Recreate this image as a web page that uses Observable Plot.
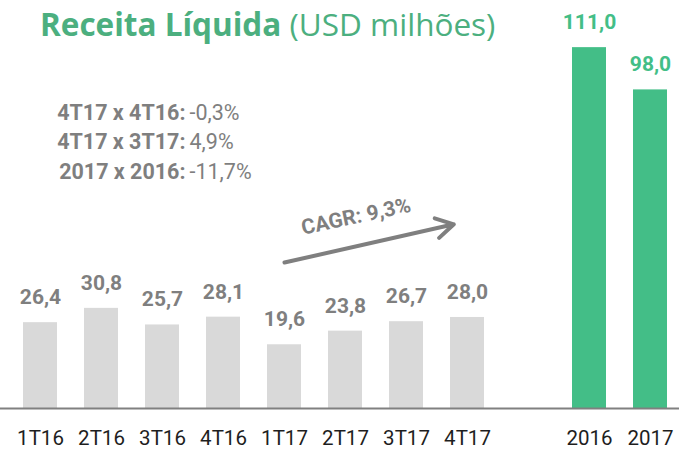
<!DOCTYPE html>
<html><head><meta charset="utf-8">
<script src="https://cdn.jsdelivr.net/npm/d3@7"></script>
<script src="https://cdn.jsdelivr.net/npm/@observablehq/plot@0.6"></script>
<style>
body{margin:0;background:#fff;}
#wrap{position:relative;width:679px;height:449px;}
#title{position:absolute;left:40px;top:8px;font-family:'Open Sans',sans-serif;font-size:31.5px;line-height:1;color:#4caf7f;white-space:nowrap;z-index:2}
#title b{font-weight:700}
</style></head><body>
<div id="wrap"><div id="title"><b>Receita Líquida</b> (USD milhões)</div></div>
<script>
const quarters = ["1T16","2T16","3T16","4T16","1T17","2T17","3T17","4T17"];
const quarterValues = [26.4, 30.8, 25.7, 28.1, 19.6, 23.8, 26.7, 28.0];
const years = ["2016","2017"];
const yearValues = [111.0, 98.0];
const gap = " ";
const categories = [...quarters, gap, ...years];
const compareLabels = ["4T17 x 4T16:", "4T17 x 3T17:", "2017 x 2016:"];
const compareValues = ["-0,3%", "4,9%", "-11,7%"];
const cagrLabel = "CAGR: 9,3%";
const cagrFrom = "1T17", cagrTo = "4T17";

const GRAY = "#d9d9d9", GREEN = "#43be87", TXT = "#7f7f7f";
const ROBOTO = "Roboto,sans-serif";
const fmt = v => v.toFixed(1).replace(".", ",");
const qRows = quarters.map((c, i) => ({c, v: quarterValues[i]}));
const yRows = years.map((c, i) => ({c, v: yearValues[i]}));

const chart = Plot.plot({
  width: 679, height: 449,
  marginTop: 0, marginBottom: 41, marginLeft: 0, marginRight: 0,
  x: {type: "band", domain: categories, range: [-6.3, 695.3], padding: 0.445, axis: null, label: null},
  y: {domain: [0, 125.5], axis: null, label: null},
  style: {background: "transparent"},
  marks: [
    Plot.barY(qRows, {x: "c", y: "v", fill: GRAY}),
    Plot.barY(yRows, {x: "c", y: "v", fill: GREEN}),
    Plot.ruleY([0], {stroke: "#808080", strokeWidth: 2}),
    Plot.text(qRows, {x: "c", y: "v", text: d => fmt(d.v), dy: -18.5, lineAnchor: "bottom", fill: TXT, fontWeight: "bold", fontSize: 21, fontFamily: ROBOTO}),
    Plot.text(yRows, {x: "c", y: "v", text: d => fmt(d.v), dy: -18.5, lineAnchor: "bottom", fill: GREEN, fontWeight: "bold", fontSize: 21, fontFamily: ROBOTO}),
    Plot.axisX({label: null, tickSize: 0, tickPadding: 22, fontSize: 20.5, fontFamily: ROBOTO, fill: "#1e1e1e", tickFormat: d => d.trim()}),
    Plot.text([compareLabels.join("\n")], {frameAnchor: "top-left", dx: 185, dy: 98.5, textAnchor: "end", lineAnchor: "top", lineHeight: 29.5/21.5, fontSize: 21.5, fontWeight: "bold", fill: TXT, fontFamily: ROBOTO}),
    Plot.text([compareValues.join("\n")], {frameAnchor: "top-left", dx: 189, dy: 98.5, textAnchor: "start", lineAnchor: "top", lineHeight: 29.5/21.5, fontSize: 21.5, fill: TXT, fontFamily: ROBOTO}),
    Plot.arrow([cagrLabel], {x1: () => cagrFrom, y1: () => 44.9, x2: () => cagrTo, y2: () => 57.6, insetEnd: 14, stroke: TXT, strokeWidth: 4, headLength: 7.5}),
    Plot.text([cagrLabel], {x: () => "2T17", y: () => 57, dx: 12, rotate: -12, textAnchor: "middle", lineAnchor: "bottom", fill: TXT, fontWeight: "bold", fontSize: 21, fontFamily: ROBOTO})
  ]
});
document.getElementById("wrap").appendChild(chart);
chart.style.position = "absolute"; chart.style.left = "0"; chart.style.top = "0";
</script>
</body></html>
